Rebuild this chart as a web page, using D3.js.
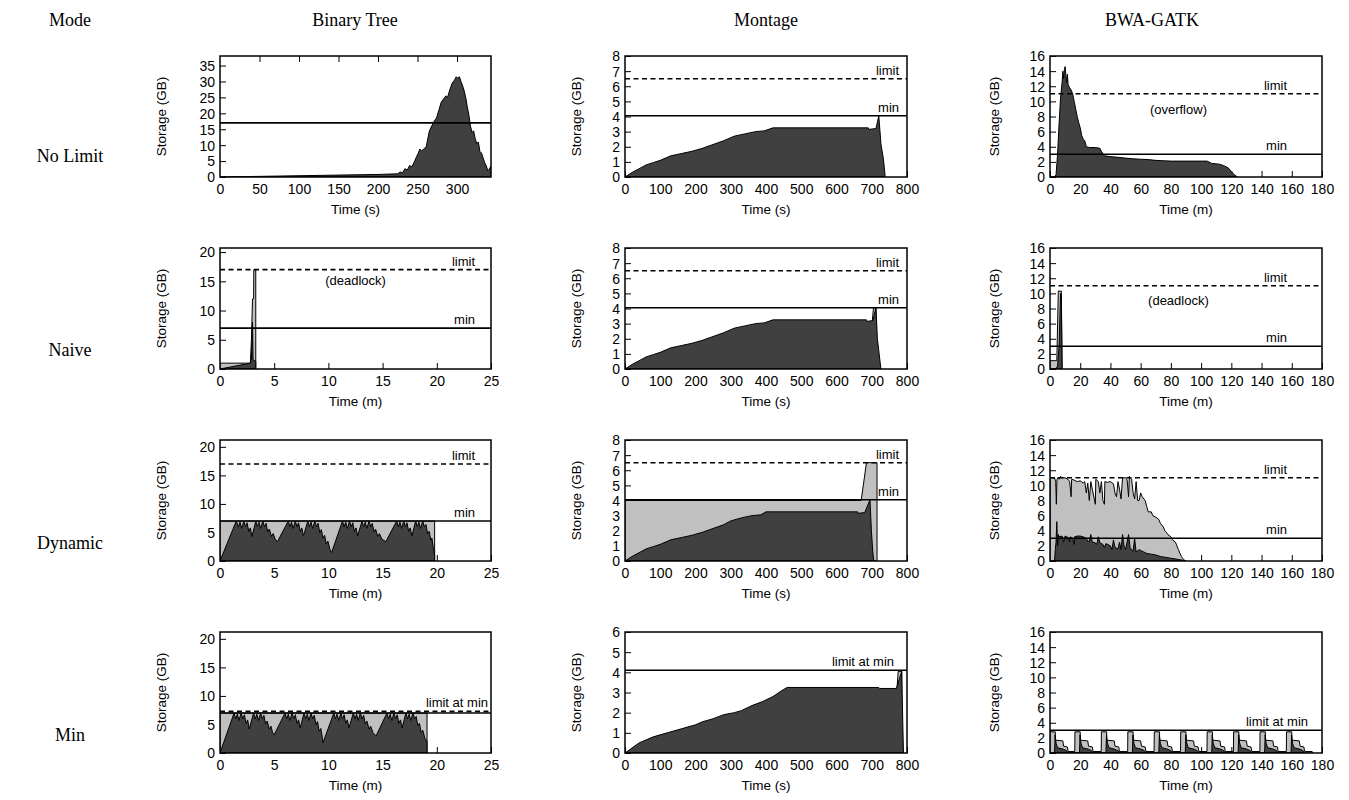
<!DOCTYPE html>
<html>
<head>
<meta charset="utf-8">
<script src="https://cdn.jsdelivr.net/npm/d3@7"></script>
<style>
  body { margin: 0; background: #fff; }
</style>
</head>
<body>
<svg id="chart" width="1349" height="800"></svg>
<script>
// ---- labels
const modeTitle = "Mode";
const colTitles = ["Binary Tree", "Montage", "BWA-GATK"];
const rowTitles = ["No Limit", "Naive", "Dynamic", "Min"];

// ---- tick values
const btTicksXsec = [0, 50, 100, 150, 200, 250, 300];
const btTicksX = [0, 5, 10, 15, 20, 25];
const btTicksYbig = [0, 5, 10, 15, 20, 25, 30, 35];
const btTicksY = [0, 5, 10, 15, 20];
const montTicksX = [0, 100, 200, 300, 400, 500, 600, 700, 800];
const montTicksY = [0, 1, 2, 3, 4, 5, 6, 7, 8];
const montTicksYmin = [0, 1, 2, 3, 4, 5, 6];
const bwaTicksX = [0, 20, 40, 60, 80, 100, 120, 140, 160, 180];
const bwaTicksY = [0, 2, 4, 6, 8, 10, 12, 14, 16];

// ---- storage levels (GB)
const btMin = 7, btLimit = 17, btLimitAtMin = 7.3, btNoLimitRef = 17;
const montMin = 4.05, montLimit = 6.5, montLimitAtMin = 4.1;
const bwaMin = 3, bwaLimit = 11;

// ---- Binary Tree series [time, GB]
const btNoLimitUsed = [[0,0],[50,0.2],[100,0.4],[150,0.6],[200,0.8],[225,1.0],[228,1.6],[231,1.3],[234,2.6],[237,2.2],[240,3.6],[243,3.2],[246,4.8],[249,6.5],[251,7.5],[253,8.8],[255,8.2],[258,8.8],[261,9.5],[263,12],[265,14.5],[268,16],[271,17.5],[274,18.5],[277,21],[280,23.5],[283,24.5],[286,25.5],[288,25],[291,27.5],[294,29.5],[297,30.5],[299,31.5],[301,31],[303,31.5],[305,30],[308,28],[311,25],[313,22],[315,19.5],[317,16],[319,14],[321,14.5],[323,12],[325,10.5],[327,11],[329,8],[331,7.5],[333,6],[335,4.5],[337,3.5],[339,2],[341,2.5],[343,3.5]];

const btNaiveAlloc = [[0,1],[2.8,1],[2.9,5],[3.0,12],[3.1,12],[3.12,17],[3.3,17],[3.3,0]];
const btNaiveUsed = [[0,0],[2.8,1],[2.9,1.6],[3.0,8],[3.05,1.6],[3.3,1.3],[3.3,0]];

const btDynAlloc = [[0,7],[19.8,7],[19.8,0]];
const btDynUsed = [[0,0],[1.5,7],
 [1.7,6.0],[1.85,6.8],[2.0,5.7],[2.2,7],[2.35,6.0],[2.5,6.7],[2.65,5.2],[2.8,5.8],[2.95,4.3],[3.3,7],[3.45,6.0],[3.6,6.8],[3.75,5.7],[3.95,7],[4.1,6.0],[4.25,6.6],[4.4,5.1],[4.55,5.6],[4.75,4.3],[4.9,4.8],[5.1,3.8],[5.3,3.4],
 [6.3,7],
 [6.45,6.0],[6.6,6.8],[6.75,5.7],[6.95,7],[7.1,6.0],[7.25,6.7],[7.4,5.2],[7.55,5.8],[7.7,4.4],[8.1,7],[8.25,6.0],[8.4,6.8],[8.55,5.7],[8.75,7],[8.9,6.0],[9.05,6.6],[9.2,5.0],[9.35,5.5],[9.5,4.0],[9.65,4.5],[9.8,3.0],[9.95,3.5],[10.15,2.0],[10.3,1.5],
 [11.3,7],
 [11.45,6.0],[11.6,6.8],[11.75,5.7],[11.95,7],[12.1,6.0],[12.25,6.7],[12.4,5.2],[12.55,5.8],[12.7,4.4],[13.1,7],[13.25,6.0],[13.4,6.8],[13.55,5.7],[13.75,7],[13.9,6.0],[14.05,6.6],[14.2,5.1],[14.35,5.6],[14.55,4.3],[14.7,4.8],[14.95,3.8],[15.3,3.4],
 [16.3,7],
 [16.45,6.0],[16.6,6.8],[16.75,5.7],[16.95,7],[17.1,6.0],[17.25,6.7],[17.4,5.2],[17.55,5.8],[17.7,4.4],[18.05,7],[18.2,6.0],[18.35,6.8],[18.5,5.7],[18.7,7],[18.85,6.0],[19.0,6.4],[19.15,4.8],[19.3,5.2],[19.45,3.6],[19.55,4.0],[19.7,2.0],[19.8,1.0],[19.8,0]];

const btMinAlloc = [[0,7],[19.1,7],[19.1,0]];
const btMinUsed = [[0,0],[1.3,7],
 [1.45,6.0],[1.6,6.8],[1.75,5.7],[1.95,7],[2.1,6.0],[2.25,6.7],[2.4,5.2],[2.55,5.8],[2.7,4.2],[3.1,7],[3.25,6.0],[3.4,6.8],[3.55,5.7],[3.75,7],[3.9,6.0],[4.05,6.6],[4.2,5.1],[4.35,5.6],[4.55,4.2],[4.7,4.7],[4.85,3.6],[5.0,3.2],
 [6.0,7],
 [6.15,6.0],[6.3,6.8],[6.45,5.7],[6.65,7],[6.8,6.0],[6.95,6.7],[7.1,5.2],[7.25,5.8],[7.4,4.4],[7.75,7],[7.9,6.0],[8.05,6.8],[8.2,5.7],[8.4,7],[8.55,6.0],[8.7,6.6],[8.85,5.0],[9.0,5.5],[9.15,3.8],[9.3,4.3],[9.45,2.6],[9.5,1.8],
 [10.5,7],
 [10.65,6.0],[10.8,6.8],[10.95,5.7],[11.15,7],[11.3,6.0],[11.45,6.7],[11.6,5.2],[11.75,5.8],[11.9,4.4],[12.3,7],[12.45,6.0],[12.6,6.8],[12.75,5.7],[12.95,7],[13.1,6.0],[13.25,6.6],[13.4,5.1],[13.55,5.6],[13.75,4.2],[13.9,4.7],[14.1,3.6],[14.4,3.0],
 [15.4,7],
 [15.55,6.0],[15.7,6.8],[15.85,5.7],[16.05,7],[16.2,6.0],[16.35,6.7],[16.5,5.2],[16.65,5.8],[16.8,4.4],[17.15,7],[17.3,6.0],[17.45,6.8],[17.6,5.7],[17.8,7],[17.95,6.0],[18.1,6.4],[18.25,4.8],[18.4,5.2],[18.55,3.6],[18.7,4.0],[18.9,2.6],[19.1,2.0],[19.1,0]];

// ---- Montage series [s, GB]
const montNoLimitUsed = [[0,0],[20,0.3],[40,0.55],[60,0.8],[80,0.95],[100,1.1],[130,1.4],[160,1.55],[190,1.7],[220,1.9],[250,2.15],[280,2.4],[310,2.7],[340,2.85],[370,3.0],[395,3.05],[420,3.25],[690,3.25],[692,3.15],[712,3.2],[720,4.05],[726,2.2],[733,1.2],[737,0.3],[738,0]];
const montNaiveAlloc = [[700,0],[702,3.3],[705,4.05],[712,4.05],[712,0]];
const montNaiveUsed = [[0,0],[20,0.3],[40,0.55],[60,0.8],[80,0.95],[100,1.1],[130,1.4],[160,1.55],[190,1.7],[220,1.9],[250,2.15],[280,2.4],[310,2.7],[340,2.85],[370,3.0],[395,3.05],[420,3.25],[685,3.25],[687,3.15],[703,3.2],[712,4.05],[716,2.0],[721,1.0],[726,0]];
const montDynAlloc = [[0,4.0],[670,4.0],[685,6.5],[715,6.5],[715,0]];
const montDynUsed = [[0,0],[20,0.3],[40,0.55],[60,0.8],[80,0.95],[100,1.1],[130,1.4],[160,1.55],[190,1.7],[220,1.9],[250,2.15],[280,2.4],[300,2.65],[330,2.85],[360,3.0],[385,3.05],[400,3.25],[660,3.25],[662,3.15],[680,3.2],[695,4.05],[699,2.0],[703,0.6],[706,0]];
const montMinAlloc = [[770,0],[772,3.3],[775,4.05],[785,4.05],[785,0]];
const montMinUsed = [[0,0],[40,0.5],[80,0.8],[120,1.0],[160,1.2],[200,1.4],[220,1.55],[250,1.7],[280,1.9],[310,2.0],[330,2.1],[360,2.35],[390,2.55],[420,2.8],[445,3.1],[460,3.25],[720,3.25],[722,3.2],[770,3.2],[785,4.05],[788,1.5],[790,0]];

// ---- BWA-GATK series [min, GB]
const bwaNoLimitUsed = [[0,0],[3,0],[4,0.3],[5,3],[6,7],[7,10.5],[8,12.5],[8.5,14],[9,13],[9.5,14.2],[10,14.6],[10.5,13.5],[11,12.5],[11.5,13.6],[12,12.2],[13,11.8],[14,11.5],[15,11],[16,10],[17,9],[18,8],[19,7.2],[20,6.5],[21,5.5],[22,5],[23,4.8],[24,4],[26,3.9],[30,3.9],[33,3.8],[34,3.4],[35,3.1],[36,2.8],[40,2.7],[45,2.6],[50,2.5],[55,2.4],[60,2.35],[65,2.3],[70,2.2],[75,2.15],[80,2.1],[90,2.1],[100,2.1],[104,2.1],[107,1.8],[112,1.7],[115,1.5],[118,1.2],[120,0.7],[122,0.3],[124,0]];
const bwaNaiveAlloc = [[0,1.1],[4.5,1.1],[5.5,10.3],[7.5,10.3],[8,0]];
const bwaNaiveUsed = [[0,0],[4,0],[5,0.4],[6,3],[7,10],[7.5,9.5],[8,0]];
const bwaDynAlloc = [[0,11],[3,11],[3.8,10.5],[4.2,7.5],[4.6,10.8],[5.5,11.1],[6,10.8],[7,11.2],[8,11],[10,11],[12,10.8],[13,10.5],[14,8.5],[14.3,10.8],[16,10.7],[18,10.5],[20,10.6],[22,10.3],[23,10.5],[24,9],[25,10.3],[26,8],[27,10.5],[28,9.5],[30,7.5],[30.3,10.8],[32,10.5],[33,9],[34,10.5],[35,8],[36,7.5],[36.3,10.5],[38,10.4],[40,10.5],[42,10.2],[43,9],[44,8.5],[45,10.5],[46,9.5],[47,8.2],[48,11],[50,11],[51,10.8],[52,8.5],[52.5,11.2],[54,10.8],[55,9],[56,8.2],[57,10.5],[58,8],[59,8],[60,9],[61,8.5],[63,8],[64,7.2],[65,6.5],[67,6.5],[68,6],[70,5.8],[72,5.5],[73,5],[75,4.5],[76,4],[77,3.8],[78,3.5],[80,3.2],[81,2.8],[83,2.5],[84,2],[85,1.5],[86,1],[87,0.6],[88,0.3],[89,0.1],[90,0]];
const bwaDynUsed = [[0,0],[3,0],[3.5,1.5],[4,2.5],[4.5,5.2],[5,2],[5.5,3.5],[6,3.2],[8,3.3],[9,2.5],[10,3.3],[12,3.1],[13,2.5],[13.3,3.2],[15,3.0],[16,2.2],[16.3,3.2],[18,3.3],[20,3.3],[22,3.2],[24,3.0],[25,2.6],[26,2.6],[27,3.5],[28,2.5],[30,2.4],[31,2.2],[32,3.2],[33,2.4],[35,2.2],[36,1.8],[37,2.3],[38,2.2],[40,2.0],[41,1.5],[42,2.8],[43,1.8],[45,1.6],[46,2.5],[47,1.5],[48,3.5],[49,2.0],[50,1.5],[52,3.5],[53,1.8],[54,1.5],[55,1.3],[56,3.0],[57,1.2],[59,1.5],[60,1.4],[62,1.2],[64,1.0],[67,0.9],[70,0.8],[73,0.6],[76,0.5],[79,0.4],[82,0.3],[85,0.2],[88,0.1],[90,0]];
const bwaMinAlloc = [
 [0,2.8],[3.5,2.8],[3.5,1.7],[8.5,1.6],[9,0.9],[11.5,0.8],[12,0.2],[16.4,0.2],
 [16.5,2.8],[20,2.8],[20,1.7],[25,1.6],[25.5,0.9],[28,0.8],[28.5,0.2],[33.9,0.2],
 [34,2.8],[37.5,2.8],[37.5,1.7],[42.5,1.6],[43,0.9],[45.5,0.8],[46,0.2],[51.4,0.2],
 [51.5,2.8],[55,2.8],[55,1.7],[60,1.6],[60.5,0.9],[63,0.8],[63.5,0.2],[68.9,0.2],
 [69,2.8],[72.5,2.8],[72.5,1.7],[77.5,1.6],[78,0.9],[80.5,0.8],[81,0.2],[86.4,0.2],
 [86.5,2.8],[90,2.8],[90,1.7],[95,1.6],[95.5,0.9],[98,0.8],[98.5,0.2],[103.9,0.2],
 [104,2.8],[107.5,2.8],[107.5,1.7],[112.5,1.6],[113,0.9],[115.5,0.8],[116,0.2],[121.4,0.2],
 [121.5,2.8],[125,2.8],[125,1.7],[130,1.6],[130.5,0.9],[133,0.8],[133.5,0.2],[138.9,0.2],
 [139,2.8],[142.5,2.8],[142.5,1.7],[147.5,1.6],[148,0.9],[150.5,0.8],[151,0.2],[156.4,0.2],
 [156.5,2.8],[160,2.8],[160,1.7],[165,1.6],[165.5,0.9],[168,0.8],[168.5,0.2],[173.5,0.2],[174,0]];
const bwaMinUsed = [
 [0,0],[3,0],[3.4,2.4],[4,1.3],[5,0.7],[9,0.5],[11,0.3],[12,0],
 [19.5,0],[19.9,2.4],[20.5,1.3],[21.5,0.7],[25.5,0.5],[27.5,0.3],[28.5,0],
 [37,0],[37.4,2.4],[38,1.3],[39,0.7],[43,0.5],[45,0.3],[46,0],
 [54.5,0],[54.9,2.4],[55.5,1.3],[56.5,0.7],[60.5,0.5],[62.5,0.3],[63.5,0],
 [72,0],[72.4,2.4],[73,1.3],[74,0.7],[78,0.5],[80,0.3],[81,0],
 [89.5,0],[89.9,2.4],[90.5,1.3],[91.5,0.7],[95.5,0.5],[97.5,0.3],[98.5,0],
 [107,0],[107.4,2.4],[108,1.3],[109,0.7],[113,0.5],[115,0.3],[116,0],
 [124.5,0],[124.9,2.4],[125.5,1.3],[126.5,0.7],[130.5,0.5],[132.5,0.3],[133.5,0],
 [142,0],[142.4,2.4],[143,1.3],[144,0.7],[148,0.5],[150,0.3],[151,0],
 [159.5,0],[159.9,2.4],[160.5,1.3],[161.5,0.7],[165.5,0.5],[167.5,0.3],[168.5,0]];

// ---- layout
const colLeft = [220, 625, 1050];
const colRight = [491, 907, 1322];
const colTitleX = [355, 766, 1152];
const ylabelGap = [58, 48, 55];
const rowBottom = [177, 369, 561, 753];
const plotH = 121;
const rowTitleY = [158, 352, 545, 737];
const modeX = 70, headY = 22;

const lightFill = "#c0c0c0", darkFill = "#404040";
const sans = "'Liberation Sans', Arial, sans-serif";
const serif = "'Liberation Serif', 'Times New Roman', serif";

// panel table built from the arrays above
const panels = [
  {r:0, c:0, xMax:343, yMax:38, xt:btTicksXsec, yt:btTicksYbig, xl:"Time (s)", topTicks:true,
   series:[btNoLimitUsed], fills:[darkFill],
   lines:[{v:btNoLimitRef}], inset:16},
  {r:0, c:1, xMax:800, yMax:8, xt:montTicksX, yt:montTicksY, xl:"Time (s)",
   series:[montNoLimitUsed], fills:[darkFill],
   lines:[{v:montLimit, dash:true, label:"limit"}, {v:montMin, label:"min"}], inset:8},
  {r:0, c:2, xMax:180, yMax:16, xt:bwaTicksX, yt:bwaTicksY, xl:"Time (m)",
   series:[bwaNoLimitUsed], fills:[darkFill],
   lines:[{v:bwaLimit, dash:true, label:"limit"}, {v:bwaMin, label:"min"}], inset:35,
   note:{text:"(overflow)", x:85, y:8.8}},
  {r:1, c:0, xMax:25, yMax:20.7, xt:btTicksX, yt:btTicksY, xl:"Time (m)",
   series:[btNaiveAlloc, btNaiveUsed], fills:[lightFill, darkFill],
   lines:[{v:btLimit, dash:true, label:"limit"}, {v:btMin, label:"min"}], inset:16,
   note:{text:"(deadlock)", x:12.5, y:15.0}},
  {r:1, c:1, xMax:800, yMax:8, xt:montTicksX, yt:montTicksY, xl:"Time (s)",
   series:[montNaiveAlloc, montNaiveUsed], fills:[lightFill, darkFill],
   lines:[{v:montLimit, dash:true, label:"limit"}, {v:montMin, label:"min"}], inset:8},
  {r:1, c:2, xMax:180, yMax:16, xt:bwaTicksX, yt:bwaTicksY, xl:"Time (m)",
   series:[bwaNaiveAlloc, bwaNaiveUsed], fills:[lightFill, darkFill],
   lines:[{v:bwaLimit, dash:true, label:"limit"}, {v:bwaMin, label:"min"}], inset:35,
   note:{text:"(deadlock)", x:85, y:8.9}},
  {r:2, c:0, xMax:25, yMax:21.2, xt:btTicksX, yt:btTicksY, xl:"Time (m)",
   series:[btDynAlloc, btDynUsed], fills:[lightFill, darkFill],
   lines:[{v:btLimit, dash:true, label:"limit"}, {v:btMin, label:"min"}], inset:16},
  {r:2, c:1, xMax:800, yMax:8, xt:montTicksX, yt:montTicksY, xl:"Time (s)",
   series:[montDynAlloc, montDynUsed], fills:[lightFill, darkFill],
   lines:[{v:montLimit, dash:true, label:"limit"}, {v:montMin, label:"min"}], inset:8},
  {r:2, c:2, xMax:180, yMax:16, xt:bwaTicksX, yt:bwaTicksY, xl:"Time (m)",
   series:[bwaDynAlloc, bwaDynUsed], fills:[lightFill, darkFill],
   lines:[{v:bwaLimit, dash:true, label:"limit"}, {v:bwaMin, label:"min"}], inset:35},
  {r:3, c:0, xMax:25, yMax:21.2, xt:btTicksX, yt:btTicksY, xl:"Time (m)",
   series:[btMinAlloc, btMinUsed], fills:[lightFill, darkFill],
   lines:[{v:btMin}, {v:btLimitAtMin, dash:true, label:"limit at min"}], inset:3},
  {r:3, c:1, xMax:800, yMax:6, xt:montTicksX, yt:montTicksYmin, xl:"Time (s)",
   series:[montMinAlloc, montMinUsed], fills:[lightFill, darkFill],
   lines:[{v:montLimitAtMin, label:"limit at min"}], inset:13},
  {r:3, c:2, xMax:180, yMax:16, xt:bwaTicksX, yt:bwaTicksY, xl:"Time (m)",
   series:[bwaMinAlloc, bwaMinUsed], fills:[lightFill, darkFill],
   lines:[{v:bwaMin, label:"limit at min"}], inset:14}
];

const svg = d3.select("#chart");

// headers
svg.append("text").attr("x", modeX).attr("y", headY).attr("text-anchor", "middle")
  .attr("dominant-baseline", "middle").style("font-family", serif).style("font-size", "18px").text(modeTitle);
colTitles.forEach((t, i) => {
  svg.append("text").attr("x", colTitleX[i]).attr("y", headY).attr("text-anchor", "middle")
    .attr("dominant-baseline", "middle").style("font-family", serif).style("font-size", "18px").text(t);
});
rowTitles.forEach((t, i) => {
  svg.append("text").attr("x", modeX).attr("y", rowTitleY[i]).attr("text-anchor", "middle")
    .attr("dominant-baseline", "middle").style("font-family", serif).style("font-size", "18px").text(t);
});

panels.forEach((p, i) => {
  const left = colLeft[p.c], right = colRight[p.c];
  const bottom = rowBottom[p.r], top = bottom - plotH;
  const x = d3.scaleLinear().domain([0, p.xMax]).range([left, right]);
  const y = d3.scaleLinear().domain([0, p.yMax]).range([bottom, top]);
  const g = svg.append("g");

  g.append("clipPath").attr("id", "clip" + i).append("rect")
    .attr("x", left).attr("y", top).attr("width", right - left).attr("height", bottom - top);

  // ticks point inward and are drawn before the fills, so fills hide them
  const ya = g.append("g").attr("transform", `translate(${left},0)`)
    .call(d3.axisLeft(y).tickValues(p.yt).tickFormat(d => d).tickSizeInner(-6).tickSizeOuter(0).tickPadding(5));
  const xa = g.append("g").attr("transform", `translate(0,${bottom})`)
    .call(d3.axisBottom(x).tickValues(p.xt).tickFormat(d => d).tickSizeInner(p.topTicks ? 0 : -6).tickSizeOuter(0).tickPadding(7));
  if (p.topTicks) {
    g.append("g").attr("transform", `translate(0,${top})`)
      .call(d3.axisTop(x).tickValues(p.xt.slice(1)).tickSizeInner(-6).tickSizeOuter(0).tickFormat(""))
      .call(a => a.select(".domain").remove())
      .call(a => a.selectAll("line").attr("stroke", "#000"));
  }
  [ya, xa].forEach(a => {
    a.select(".domain").remove();
    a.selectAll("text").style("font-family", sans).style("font-size", "14px").attr("fill", "#000");
    a.selectAll("line").attr("stroke", "#000");
  });
  ya.selectAll("text").attr("dy", "0.35em");

  // areas: light (reserved) behind, dark (used) in front
  const area = d3.area().x(d => x(d[0])).y0(y(0)).y1(d => y(d[1]));
  p.series.forEach((s, k) => {
    g.append("path").datum(s).attr("d", area)
      .attr("clip-path", `url(#clip${i})`)
      .attr("fill", p.fills[k]).attr("stroke", "#000").attr("stroke-width", 1)
      .attr("stroke-linejoin", "miter");
  });

  // min / limit lines
  p.lines.forEach(l => {
    g.append("line").attr("x1", left).attr("x2", right).attr("y1", y(l.v)).attr("y2", y(l.v))
      .attr("stroke", "#000").attr("stroke-width", 1.6)
      .attr("stroke-dasharray", l.dash ? "5,3.5" : null);
    if (l.label) {
      g.append("text").attr("x", right - p.inset).attr("y", y(l.v) - 4)
        .attr("text-anchor", "end").style("font-family", sans).style("font-size", "13px").text(l.label);
    }
  });
  if (p.note) {
    g.append("text").attr("x", x(p.note.x)).attr("y", y(p.note.y)).attr("text-anchor", "middle")
      .attr("dominant-baseline", "middle").style("font-family", sans).style("font-size", "13px").text(p.note.text);
  }

  // frame
  g.append("rect").attr("x", left).attr("y", top).attr("width", right - left).attr("height", bottom - top)
    .attr("fill", "none").attr("stroke", "#000").attr("stroke-width", 1.5);

  // axis titles
  g.append("text").attr("transform", `translate(${left - ylabelGap[p.c]},${(top + bottom) / 2}) rotate(-90)`)
    .attr("text-anchor", "middle").attr("dominant-baseline", "middle")
    .style("font-family", sans).style("font-size", "13.5px").text("Storage (GB)");
  g.append("text").attr("x", (left + right) / 2).attr("y", bottom + 33).attr("text-anchor", "middle")
    .attr("dominant-baseline", "middle").style("font-family", sans).style("font-size", "13.5px").text(p.xl);
});
</script>
</body>
</html>
